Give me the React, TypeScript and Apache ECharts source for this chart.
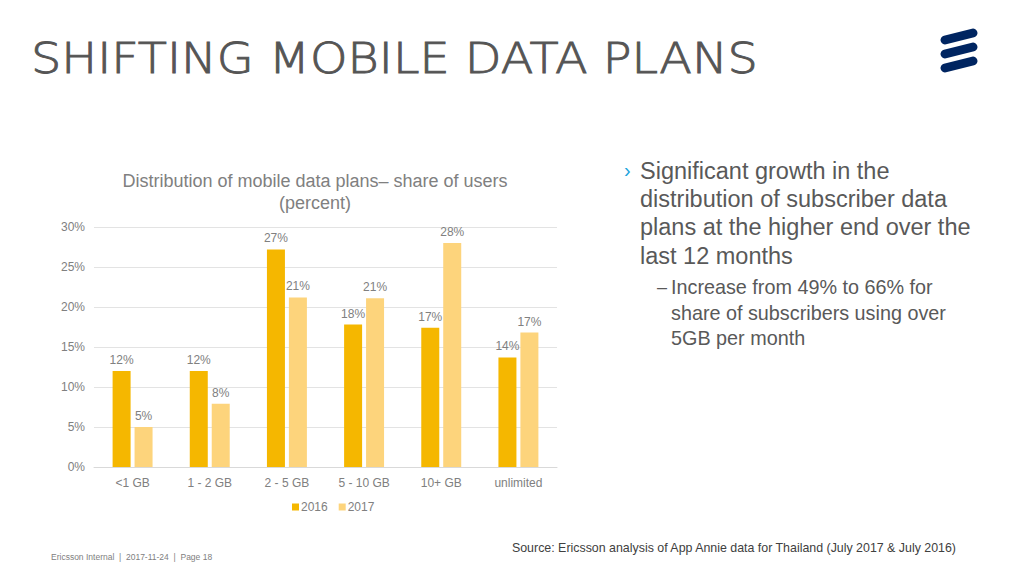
import React, { useEffect, useRef } from "react";
import * as echarts from "echarts";

const categories = ["<1 GB", "1 - 2 GB", "2 - 5 GB", "5 - 10 GB", "10+ GB", "unlimited"];
const series2016 = [12.0, 12.0, 27.2, 17.8, 17.4, 13.7];
const series2017 = [5.0, 7.9, 21.2, 21.1, 28.0, 16.8];
const seriesNames = ["2016", "2017"];
const yTicks = { min: 0, max: 30, interval: 5 };

const TITLE = "SHIFTING MOBILE DATA PLANS";
const CHART_TITLE = "Distribution of mobile data plans– share of users\n(percent)";
const BULLET_LINES = [
  "Significant growth in the",
  "distribution of subscriber data",
  "plans at the higher end over the",
  "last 12 months",
];
const SUB_LINES = [
  "Increase from 49% to 66% for",
  "share of subscribers using over",
  "5GB per month",
];
const SOURCE = "Source: Ericsson analysis of App Annie data for Thailand (July 2017 & July 2016)";
const FOOTER = "Ericsson Internal  |  2017-11-24  |  Page 18";

const C2016 = "#F5B700";
const C2017 = "#FDD47C";
const GRAY = "#808080";
const FONT = "'Liberation Sans', Arial, sans-serif";

export default function App() {
  const ref = useRef<HTMLDivElement>(null);
  useEffect(() => {
    if (!ref.current) return;
    const chart = echarts.init(ref.current, null, { renderer: "svg" });
    const label = {
      show: true,
      position: "top",
      distance: 5,
      color: GRAY,
      fontSize: 12,
      fontFamily: FONT,
      formatter: (p: any) => Math.round(p.value) + "%",
    };
    const graphics: any[] = [];
    graphics.push({
      type: "text",
      x: 31,
      y: 58,
      scaleX: 1.11,
      style: {
        text: TITLE,
        fontFamily: "'DejaVu Sans', sans-serif",
        fontWeight: 200,
        fontSize: 43,
        fill: "#555555",
        stroke: "#555555",
        lineWidth: 0.9,
        verticalAlign: "middle",
      },
    });
    // logo bars
    [0, 1, 2].forEach((i) => {
      graphics.push({
        type: "line",
        shape: { x1: 945, y1: 40 + i * 14, x2: 973, y2: 33 + i * 14 },
        style: { stroke: "#002561", lineWidth: 9, lineCap: "round" },
      });
    });
    graphics.push({
      type: "text",
      x: 624,
      y: 170,
      style: { text: "›", fontFamily: FONT, fontSize: 20, fill: "#1BA3DC", verticalAlign: "middle" },
    });
    BULLET_LINES.forEach((t, i) => {
      graphics.push({
        type: "text",
        x: 640,
        y: 171 + i * 28.2,
        style: { text: t, fontFamily: FONT, fontSize: 23.5, fill: "#595959", verticalAlign: "middle" },
      });
    });
    graphics.push({
      type: "text",
      x: 657,
      y: 287,
      style: { text: "–", fontFamily: FONT, fontSize: 18, fill: "#595959", verticalAlign: "middle" },
    });
    SUB_LINES.forEach((t, i) => {
      graphics.push({
        type: "text",
        x: 671,
        y: 287 + i * 25.5,
        style: { text: t, fontFamily: FONT, fontSize: 19.8, fill: "#595959", verticalAlign: "middle" },
      });
    });
    graphics.push({
      type: "text",
      x: 956,
      y: 548,
      style: { text: SOURCE, fontFamily: FONT, fontSize: 12.4, fill: "#404040", align: "right", verticalAlign: "middle" },
    });
    graphics.push({
      type: "text",
      x: 51,
      y: 557,
      style: { text: FOOTER, fontFamily: FONT, fontSize: 8.5, fill: "#808080", verticalAlign: "middle" },
    });

    chart.setOption({
      animation: false,
      backgroundColor: "#ffffff",
      title: {
        text: CHART_TITLE,
        left: 310,
        top: 165,
        textAlign: "center",
        textStyle: { fontFamily: FONT, fontSize: 18, fontWeight: "normal", color: GRAY, lineHeight: 22 },
      },
      legend: {
        data: seriesNames,
        left: 287,
        top: 496,
        itemWidth: 7,
        itemHeight: 7,
        itemGap: 11,
        icon: "rect",
        textStyle: { fontFamily: FONT, fontSize: 12, color: GRAY, padding: [0, 0, 0, -3] },
      },
      grid: { left: 94, right: 467, top: 227, bottom: 109, containLabel: false },
      xAxis: {
        type: "category",
        data: categories,
        axisLine: { lineStyle: { color: "#d9d9d9" } },
        axisTick: { show: false },
        axisLabel: { fontFamily: FONT, fontSize: 12, color: GRAY, margin: 10 },
      },
      yAxis: {
        type: "value",
        min: yTicks.min,
        max: yTicks.max,
        interval: yTicks.interval,
        axisLine: { show: false },
        axisTick: { show: false },
        splitLine: { lineStyle: { color: "#e3e3e3" } },
        axisLabel: { fontFamily: FONT, fontSize: 12, color: GRAY, margin: 9, formatter: "{value}%" },
      },
      series: [
        { name: seriesNames[0], type: "bar", data: series2016, barWidth: 18, barGap: "22%", itemStyle: { color: C2016 }, label },
        { name: seriesNames[1], type: "bar", data: series2017, barWidth: 18, barGap: "22%", itemStyle: { color: C2017 }, label },
      ],
      graphic: graphics,
    });
    return () => chart.dispose();
  }, []);
  return <div ref={ref} style={{ position: "fixed", left: 0, top: 0, width: 1024, height: 576 }} />;
}
